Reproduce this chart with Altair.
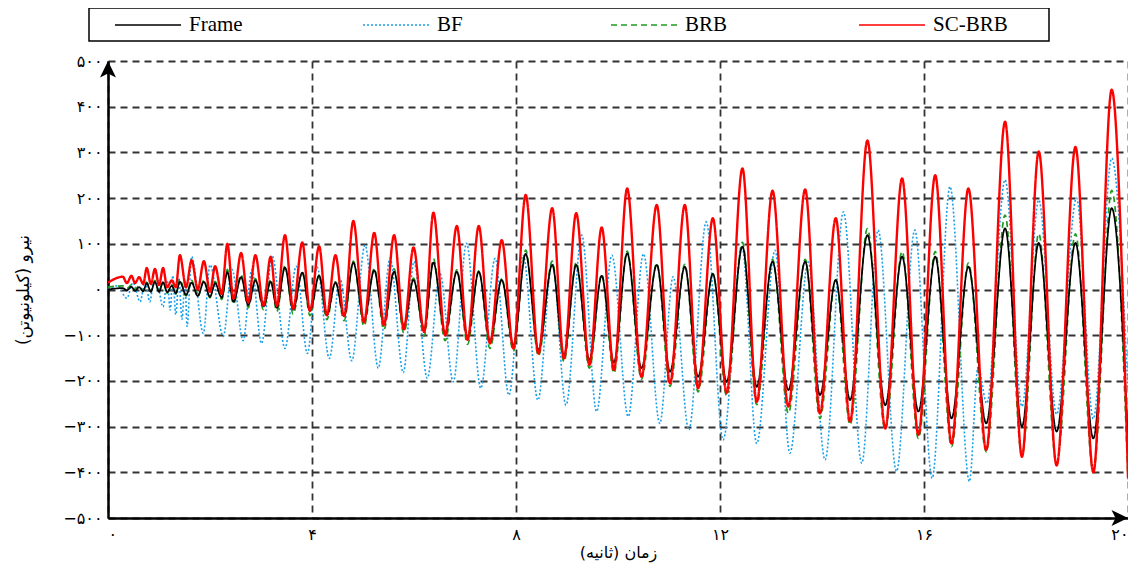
import altair as alt
import pandas as pd

# ---------------- data ----------------
SERIES = ["Frame", "BF", "BRB", "SC-BRB"]
COLORS = ["#000000", "#1a9fe8", "#1f9a1f", "#ff0000"]
DASHES = [[1, 0], [2, 2], [6, 4], [1, 0]]

X_DOMAIN = [0, 20]
Y_DOMAIN = [-500, 500]
X_TICKS = [0, 4, 8, 12, 16, 20]
Y_TICKS = [-500, -400, -300, -200, -100, 0, 100, 200, 300, 400, 500]

# extrema times shared by Frame, BRB and SC-BRB (s)
t_main = [0, 0.29, 0.37, 0.46, 0.53, 0.61, 0.69, 0.76, 0.84, 0.92, 1.00, 1.08, 1.16,
          1.25, 1.33, 1.41, 1.53, 1.64, 1.76, 1.88, 2.00, 2.10, 2.23, 2.34, 2.46, 2.61,
          2.75, 2.89, 3.05, 3.19, 3.31, 3.47, 3.63, 3.81, 3.96, 4.14, 4.29, 4.46, 4.63,
          4.81, 5.02, 5.22, 5.41, 5.61, 5.80, 5.99, 6.20, 6.38, 6.61, 6.84, 7.05, 7.27,
          7.49, 7.72, 7.95, 8.19, 8.44, 8.71, 8.94, 9.18, 9.44, 9.68, 9.92, 10.18, 10.46,
          10.76, 11.02, 11.31, 11.57, 11.86, 12.13, 12.44, 12.72, 13.03, 13.34, 13.67,
          13.96, 14.27, 14.55, 14.89, 15.24, 15.57, 15.89, 16.22, 16.54, 16.87, 17.22,
          17.59, 17.92, 18.25, 18.60, 18.97, 19.32, 19.68, 20.0]

frame = [0, 3, -2, 6, -3, 5, -4, 14, -5, 17, -5, 16, -6, 8, -8, 17, -12, 15, -14, 17, -16,
         14, -18, 38, -27, 27, -34, 20, -37, 17, -40, 48, -44, 37, -47, 30, -57, 15, -58,
         59, -68, 42, -74, 39, -80, 21, -87, 59, -96, 39, -104, 39, -112, 21, -122, 78,
         -132, 54, -145, 54, -154, 30, -160, 79, -172, 54, -180, 50, -191, 34, -202, 94,
         -213, 61, -220, 61, -231, 21, -242, 119, -253, 72, -267, 72, -282, 50, -293, 134,
         -300, 102, -311, 102, -326, 178, -332]

brb = [5, 8, 2, 10, 0, 8, -2, 16, -4, 20, -5, 18, -8, 10, -10, 22, -14, 20, -16, 20, -18,
       18, -22, 44, -32, 32, -40, 24, -44, 22, -48, 52, -54, 38, -57, 32, -66, 17, -68,
       62, -80, 46, -88, 45, -95, 25, -102, 67, -112, 43, -120, 41, -129, 24, -135, 86,
       -145, 62, -158, 59, -172, 33, -183, 84, -196, 57, -212, 55, -224, 35, -232, 103,
       -252, 66, -271, 66, -282, 21, -296, 133, -307, 83, -326, 83, -344, 58, -355, 163,
       -364, 122, -383, 122, -398, 217, -415]

scbrb = [15, 28, 14, 30, 14, 27, 12, 47, 12, 45, 10, 47, 5, 20, 5, 75, 5, 64, 0, 62, -5,
         51, -10, 100, -20, 80, -28, 75, -35, 72, -36, 119, -42, 103, -47, 95, -56, 75, -58,
         150, -72, 124, -78, 119, -87, 92, -93, 168, -100, 139, -110, 139, -118, 108, -129,
         207, -140, 178, -151, 167, -165, 136, -176, 221, -191, 185, -205, 185, -216, 156,
         -226, 265, -246, 216, -256, 219, -271, 156, -289, 326, -304, 243, -318, 250, -337,
         221, -351, 367, -366, 302, -385, 312, -400, 437, -412]

# BF extrema times (s) and values
t_bf = [0, 0.18, 0.37, 0.49, 0.63, 0.73, 0.82, 0.92, 1.08, 1.16, 1.22, 1.27, 1.33, 1.39,
        1.45, 1.51, 1.55, 1.64, 1.87, 2.00, 2.26, 2.43, 2.65, 2.82, 3.01, 3.22, 3.47, 3.69,
        3.91, 4.10, 4.34, 4.55, 4.78, 5.04, 5.30, 5.53, 5.79, 6.00, 6.26, 6.51, 6.77, 7.03,
        7.31, 7.59, 7.86, 8.14, 8.43, 8.71, 8.98, 9.29, 9.58, 9.88, 10.20, 10.50, 10.82,
        11.08, 11.39, 11.73, 12.06, 12.43, 12.72, 13.08, 13.37, 13.73, 14.06, 14.42, 14.78,
        15.10, 15.46, 15.82, 16.16, 16.51, 16.89, 17.06, 17.23, 17.59, 17.92, 18.25, 18.60,
        18.99, 19.32, 19.68, 20.0]

bf = [0, 8, -19, 15, -27, 20, -27, 44, -38, 20, -45, 30, -55, 25, -65, 20, -81, 72, -96,
      54, -103, 44, -112, 43, -118, 73, -129, 51, -140, 49, -151, 24, -156, 97, -172, 68,
      -182, 61, -194, 35, -202, 101, -216, 68, -231, 75, -242, 60, -253, 119, -267, 75,
      -278, 78, -293, 28, -307, 148, -329, 95, -337, 86, -358, 60, -373, 170, -380, 130,
      -398, 130, -413, 225, -420, -170, -249, 240, -256, 196, -273, 200, -283, 287, -220]

# ---------------- table ----------------
rows = []
for name, tt, vv in [("BF", t_bf, bf), ("BRB", t_main, brb),
                     ("Frame", t_main, frame), ("SC-BRB", t_main, scbrb)]:
    for a, b in zip(tt, vv):
        rows.append({"series": name, "t": a, "f": b})
df = pd.DataFrame(rows)

FA = "۰۱۲۳۴۵۶۷۸۹"


def fa(expr):
    for d in range(10):
        expr = f"replace({expr}, regexp('{d}', 'g'), '{FA[d]}')"
    return expr


x_enc = alt.X(
    "t:Q",
    scale=alt.Scale(domain=X_DOMAIN, nice=False, zero=False),
    axis=alt.Axis(values=X_TICKS, title="زمان (ثانیه)",
                  labelExpr=fa("toString(datum.value)"), labelFlush=True,
                  labelPadding=8, titlePadding=2, titleFontSize=16),
)
y_enc = alt.Y(
    "f:Q",
    scale=alt.Scale(domain=Y_DOMAIN, nice=False),
    axis=alt.Axis(values=Y_TICKS, title="نیرو (کیلونیوتن)",
                  labelExpr="(datum.value < 0 ? '−' : '') + " + fa("toString(abs(datum.value))"),
                  labelPadding=6, titlePadding=30),
)

legend = alt.Legend(
    title=".", titleOrient="right", titleOpacity=0, titleFontSize=10, titlePadding=32,
    orient="none", legendX=-19, legendY=-53, direction="horizontal",
    columns=4, symbolType="M-1,0 L5.6,0", symbolSize=400, symbolStrokeWidth=1.6,
    labelFont="Liberation Serif", labelFontSize=21, labelColor="black",
    labelOffset=53, columnPadding=79, gridAlign="all", padding=6,
    strokeColor="black", fillColor="white", symbolOffset=19,
)

color = alt.Color("series:N", scale=alt.Scale(domain=SERIES, range=COLORS), legend=legend)
dash = alt.StrokeDash("series:N", scale=alt.Scale(domain=SERIES, range=DASHES), legend=legend)

widths = {"BF": 1.6, "BRB": 1.7, "Frame": 1.7, "SC-BRB": 2.4}
layers = []
for name in ["BF", "BRB", "Frame", "SC-BRB"]:
    layers.append(
        alt.Chart(df)
        .transform_filter(alt.datum.series == name)
        .mark_line(interpolate="monotone", clip=True, strokeWidth=widths[name])
        .encode(x=x_enc, y=y_enc, color=color, strokeDash=dash)
    )

arrows_df = pd.DataFrame({
    "t": [X_DOMAIN[0], X_DOMAIN[1]],
    "f": [Y_DOMAIN[1], Y_DOMAIN[0]],
    "shape": ["M0,0 L0.8,1.65 L0,1.25 L-0.8,1.65 Z",
              "M0,0 L-1.65,-0.8 L-1.25,0 L-1.65,0.8 Z"],
})
arrows = alt.Chart(arrows_df).mark_point(filled=True, color="black", size=400, opacity=1,
                                          strokeWidth=0).encode(
    x=alt.X("t:Q"), y=alt.Y("f:Q"), shape=alt.Shape("shape:N", scale=None, legend=None)
)

chart = (
    alt.layer(*layers, arrows)
    .properties(width=1020, height=457,
                padding={"left": 100, "top": 53, "right": 0, "bottom": 48},
                autosize=alt.AutoSizeParams(type="none"),
                background="white")
    .configure_view(stroke=None)
    .configure_axis(domainColor="black", domainWidth=2.5, ticks=False,
                    gridColor="#333333", gridDash=[7, 5], gridWidth=1.8, gridOpacity=1,
                    labelFont="DejaVu Sans", labelFontSize=16, labelColor="black",
                    titleFont="DejaVu Sans", titleFontSize=17, titleFontWeight="normal",
                    titleColor="black")
    .configure_legend(strokeWidth=1.5)
)

chart.save("out.html", embed_options={"renderer": "svg", "actions": False})
